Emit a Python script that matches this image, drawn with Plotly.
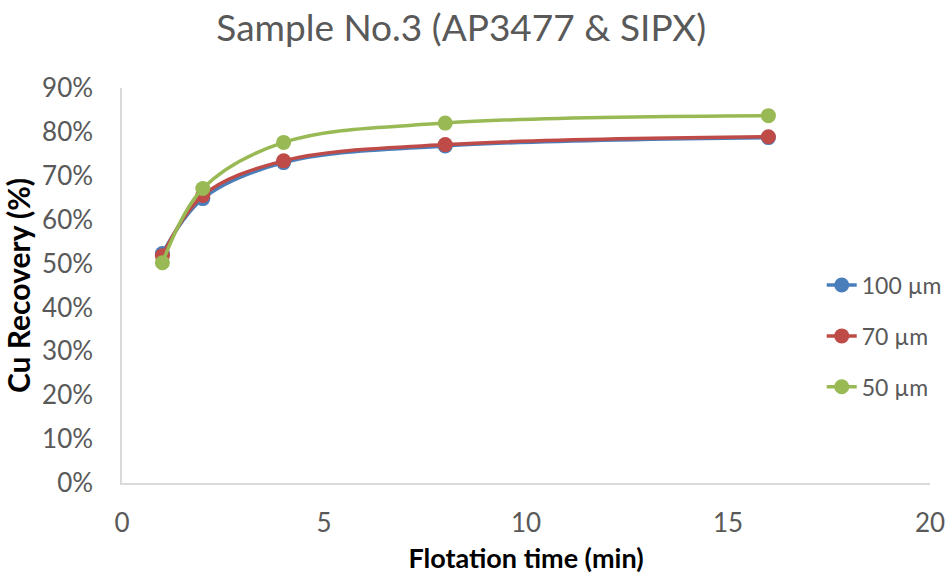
import plotly.graph_objects as go

time_min = [1, 2, 4, 8, 16]
rec_100 = [0.523, 0.648, 0.730, 0.768, 0.787]
rec_70 = [0.518, 0.655, 0.734, 0.771, 0.789]
rec_50 = [0.502, 0.671, 0.776, 0.820, 0.837]

series = [
    ("100 µm", rec_100, "#4a7ebb"),
    ("70 µm", rec_70, "#be4b48"),
    ("50 µm", rec_50, "#98b954"),
]

FONT = "Lato, 'Open Sans', sans-serif"
fig = go.Figure()
for i, (name, vals, col) in enumerate(series):
    fig.add_trace(go.Scatter(
        x=time_min, y=vals, name=name, mode="lines+markers",
        line=dict(color=col, width=3.5, shape="spline", smoothing=1.0),
        marker=dict(size=15, color=col),
        legendgroup=f"g{i}",
    ))

fig.update_layout(
    width=951, height=580,
    margin=dict(l=122, r=21, t=88, b=97, autoexpand=False),
    paper_bgcolor="white", plot_bgcolor="white",
    font=dict(family=FONT, color="#595959", size=24),
    title=dict(text="Sample No.3 (AP3477 & SIPX)", x=0.485, xanchor="center",
               y=0.952, yanchor="middle",
               font=dict(size=37, color="#595959", family=FONT)),
    xaxis=dict(range=[0, 20], dtick=5, showgrid=False, zeroline=False,
               showline=True, linecolor="#d9d9d9", linewidth=1.5,
               ticks="", ticklabelstandoff=16,
               tickfont=dict(size=26, color="#595959"),
               title=dict(text="<b>Flotation time (min)</b>", standoff=12,
                          font=dict(size=27, color="black"))),
    yaxis=dict(range=[0, 0.9], dtick=0.1, tickformat=".0%", showgrid=False,
               zeroline=False, showline=True, linecolor="#d9d9d9", linewidth=1.5,
               ticks="", ticklabelstandoff=22,
               tickfont=dict(size=26, color="#595959"),
               title=dict(text="<b>Cu Recovery (%)</b>", standoff=10,
                          font=dict(size=30, color="black"))),
    legend=dict(x=0.866, y=0.372, xanchor="left", yanchor="middle",
                traceorder="grouped", tracegroupgap=18,
                font=dict(size=23, color="#595959"), bgcolor="rgba(0,0,0,0)"),
    showlegend=True,
)

fig.write_html("out.html")
